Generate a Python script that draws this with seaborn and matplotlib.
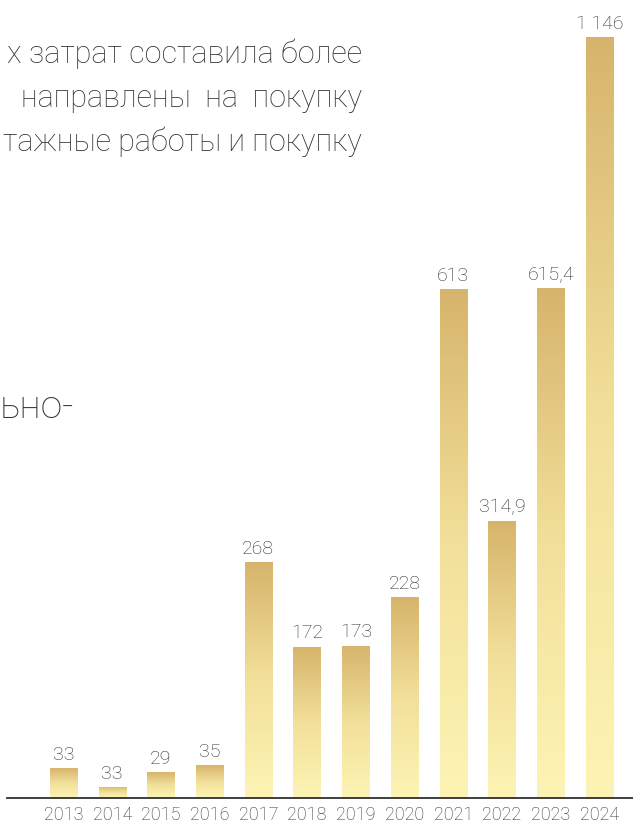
import numpy as np
import pandas as pd
import matplotlib
matplotlib.use("Agg")
import matplotlib.pyplot as plt
from matplotlib.colors import LinearSegmentedColormap
import seaborn as sns

# ---- data ----
years = ["2013", "2014", "2015", "2016", "2017", "2018", "2019", "2020", "2021", "2022", "2023", "2024"]
# label values as printed on the chart
value_labels = ["33", "33", "29", "35", "268", "172", "173", "228", "613", "314,9", "615,4", "1 146"]
# bar heights as drawn in the picture (the chart's scale is broken for the tallest bars)
bar_heights = [34, 12.5, 29.5, 37, 268, 172, 173, 228, 578, 315, 579, 864]

bg_lines = ["х затрат составила более", "направлены  на  покупку", "тажные работы и покупку"]
bg_word = "ьно-"

sns.set_theme(style="white")
plt.rcParams["font.family"] = ["Roboto", "DejaVu Sans"]

df = pd.DataFrame({"year": years, "height": bar_heights})

fig = plt.figure(figsize=(6.33, 8.25), dpi=100)
ax = fig.add_axes([7 / 633, 27 / 825, 626 / 633, 798 / 825])
sns.barplot(data=df, x="year", y="height", width=0.56, color="#e6c97f", ax=ax,
            saturation=1, edgecolor="none", linewidth=0)

ax.set_xlim(-1.16, 11.69)
ax.set_ylim(0, 906)
ax.set_xlabel("")
ax.set_ylabel("")
ax.set_yticks([])
for s in ["left", "right", "top"]:
    ax.spines[s].set_visible(False)
ax.spines["bottom"].set_color("#2f2f2f")
ax.spines["bottom"].set_linewidth(1.3)
ax.tick_params(axis="x", length=0, pad=6, labelsize=13, labelcolor="#333333")
for t in ax.get_xticklabels():
    t.set_fontweight("light")

# gradient fill
cmap = LinearSegmentedColormap.from_list("gold", ["#fdf4b4", "#f2e09a", "#d7b46b"])
grad = np.linspace(0, 1, 256).reshape(-1, 1)
for patch, lab in zip(ax.patches, value_labels):
    x0, y0 = patch.get_x(), patch.get_y()
    w, h = patch.get_width(), patch.get_height()
    patch.set_facecolor("none")
    im = ax.imshow(grad, cmap=cmap, aspect="auto", origin="lower",
                   extent=[x0, x0 + w, y0, y0 + h], zorder=2, interpolation="bicubic")
    im.set_clip_path(patch)
    ax.annotate(lab, (x0 + w / 2, y0 + h), xytext=(0, 3), textcoords="offset points",
                ha="center", va="bottom", fontsize=14, color="#2e2e2e", fontweight="light")

ax.set_xlim(-1.16, 11.69)
ax.set_ylim(0, 906)

# background page text
for i, line in enumerate(bg_lines):
    fig.text(362 / 633, 1 - (63 + 44 * i) / 825, line, ha="right", va="baseline",
             fontsize=22, color="#333333", fontweight="light")
fig.text(0, 1 - 418 / 825, bg_word, ha="left", va="baseline",
         fontsize=28, color="#333333", fontweight="light")

fig.savefig("out.png", dpi=100)
